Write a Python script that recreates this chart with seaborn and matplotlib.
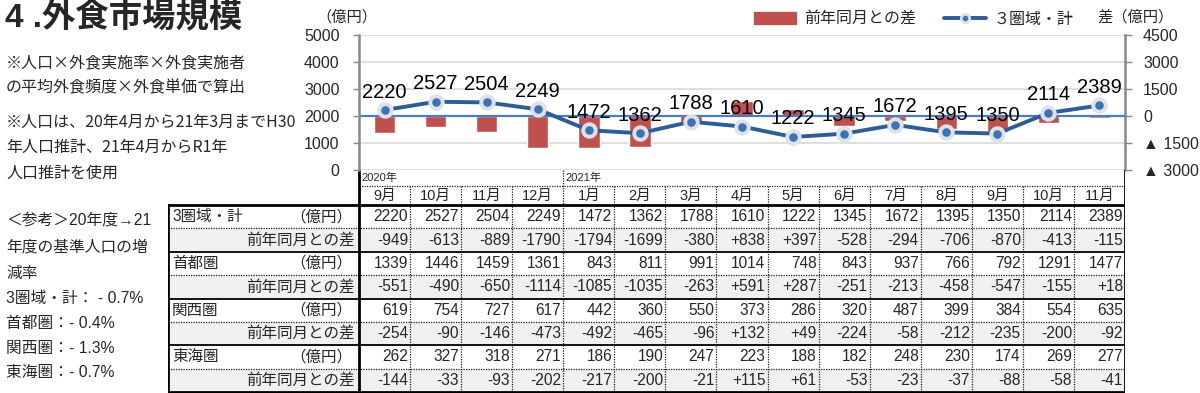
import numpy as np
import pandas as pd
import matplotlib
matplotlib.use('Agg')
import matplotlib.pyplot as plt
from matplotlib.patches import Patch, Rectangle
from matplotlib.lines import Line2D
import seaborn as sns

# --- データ ---
periods = ['2020-09', '2020-10', '2020-11', '2020-12', '2021-01', '2021-02', '2021-03',
           '2021-04', '2021-05', '2021-06', '2021-07', '2021-08', '2021-09', '2021-10', '2021-11']
month_labels = ['9月', '10月', '11月', '12月', '1月', '2月', '3月', '4月',
                '5月', '6月', '7月', '8月', '9月', '10月', '11月']
year_labels = {0: '2020年', 4: '2021年'}

total = [2220, 2527, 2504, 2249, 1472, 1362, 1788, 1610, 1222, 1345, 1672, 1395, 1350, 2114, 2389]
total_diff = [-949, -613, -889, -1790, -1794, -1699, -380, 838, 397, -528, -294, -706, -870, -413, -115]
shutoken = [1339, 1446, 1459, 1361, 843, 811, 991, 1014, 748, 843, 937, 766, 792, 1291, 1477]
shutoken_diff = [-551, -490, -650, -1114, -1085, -1035, -263, 591, 287, -251, -213, -458, -547, -155, 18]
kansai = [619, 754, 727, 617, 442, 360, 550, 373, 286, 320, 487, 399, 384, 554, 635]
kansai_diff = [-254, -90, -146, -473, -492, -465, -96, 132, 49, -224, -58, -212, -235, -200, -92]
tokai = [262, 327, 318, 271, 186, 190, 247, 223, 188, 182, 248, 230, 174, 269, 277]
tokai_diff = [-144, -33, -93, -202, -217, -200, -21, 115, 61, -53, -23, -37, -88, -58, -41]

left_ticks = [0, 1000, 2000, 3000, 4000, 5000]
right_ticks = [-3000, -1500, 0, 1500, 3000, 4500]
right_labels = ['▲ 3000', '▲ 1500', '0', '1500', '3000', '4500']

notes_top = ['※人口×外食実施率×外食実施者', 'の平均外食頻度×外食単価で算出',
             '※人口は、20年4月から21年3月までH30', '年人口推計、21年4月からR1年', '人口推計を使用']
notes_bottom = ['＜参考＞20年度→21', '年度の基準人口の増', '減率',
                '3圏域・計： - 0.7%', '首都圏：- 0.4%', '関西圏：- 1.3%', '東海圏：- 0.7%']

BAR_C = '#c0504d'
LINE_C = '#2d5c97'

sns.set_theme(style='white')
plt.rcParams['font.family'] = ['Liberation Sans', 'Noto Sans CJK JP']
plt.rcParams['axes.unicode_minus'] = False
CJK_FIRST = ['Noto Sans CJK JP', 'Liberation Sans']

W, H = 1200, 393
def fx(px): return px / W
def fy(py): return 1 - py / H

fig = plt.figure(figsize=(12, 3.93), dpi=100)

# --- グラフ部分 ---
ax = fig.add_axes([fx(359), fy(170), fx(1125) - fx(359), fy(35) - fy(170)])
ax2 = ax.twinx()

df = pd.DataFrame({'period': periods, 'total': total, 'diff': total_diff})
df['pos'] = np.arange(len(df))

sns.barplot(data=df, x='period', y='diff', ax=ax2, color=BAR_C, width=0.42, saturation=1)
sns.lineplot(data=df, x='pos', y='total', ax=ax, color=LINE_C, lw=2.8,
             marker='o', ms=9, mfc='#3f72b5', mec='#dde2ea', mew=2.8)

ax.set_zorder(ax2.get_zorder() + 1)
ax.patch.set_visible(False)

ax.set_xlim(-0.5, len(periods) - 0.5)
ax2.set_xlim(-0.5, len(periods) - 0.5)
ax.set_ylim(0, 5000)
ax2.set_ylim(-3000, 4500)

ax.set_yticks(left_ticks)
ax.set_yticklabels([str(t) for t in left_ticks], fontsize=11.5)
ax2.set_yticks(right_ticks)
ax2.set_yticklabels(right_labels, fontsize=11.5)
ax.set_xticks([])
ax2.set_xticks([])
ax.set_xlabel('')
ax.set_ylabel('')
ax2.set_xlabel('')
ax2.set_ylabel('')

ax.tick_params(axis='y', left=True, length=4, width=1, color='#888888', pad=10)
ax2.tick_params(axis='y', right=True, length=5, width=1, color='#888888', pad=8)

ax2.grid(axis='y', color='#d9d9d9', lw=1.2)
ax2.set_axisbelow(True)
ax2.axhline(0, color='#4a7ebb', lw=1.6, zorder=5)

for s in ['top', 'bottom', 'right']:
    ax.spines[s].set_visible(False)
ax.spines['left'].set_color('#888888')
ax.spines['left'].set_linewidth(1.8)
for s in ['top', 'bottom', 'left']:
    ax2.spines[s].set_visible(False)
ax2.spines['right'].set_color('#888888')
ax2.spines['right'].set_linewidth(1.8)

for i, v in enumerate(total):
    ax.annotate(str(v), (i, v), xytext=(0, 13), textcoords='offset points',
                ha='center', va='center', fontsize=14.5, color='black')

# 凡例
handles = [Patch(color=BAR_C),
           Line2D([0], [0], color=LINE_C, lw=2.8, marker='o', ms=6, mfc='#3f72b5', mec='#dde2ea', mew=2)]
fig.legend(handles, ['前年同月との差', '３圏域・計'], loc='center', bbox_to_anchor=(fx(914), fy(19)),
           ncol=2, frameon=False, fontsize=11.5, handlelength=2.6, handleheight=0.8,
           handletextpad=0.5, columnspacing=1.8)

fig.text(fx(347), fy(17), '（億円）', ha='center', va='center', fontsize=11)
fig.text(fx(1136), fy(17), '差（億円）', ha='center', va='center', fontsize=11)

# --- タイトル・注記 ---
fig.text(fx(5), fy(18), '4 .外食市場規模', ha='left', va='center', fontsize=24, fontweight='bold')
for txt, yy in zip(notes_top, [63, 88, 122, 147, 173]):
    fig.text(fx(6), fy(yy), txt, ha='left', va='center', fontsize=11.5, family=CJK_FIRST)
for txt, yy in zip(notes_bottom, [221, 247, 273, 298, 323, 348, 372]):
    fig.text(fx(6), fy(yy), txt, ha='left', va='center', fontsize=11.3)

# --- 表 ---
cw = (1125 - 359) / len(periods)
x_lab = -0.5 - (359 - 168) / cw
x_end = len(periods) - 0.5
axt = fig.add_axes([fx(168), fy(393), fx(1125) - fx(168), fy(170) - fy(393)])
axt.set_xlim(x_lab, x_end)
axt.set_ylim(393, 170)
axt.axis('off')

data_top = 205
rh = (392 - data_top) / 8
rows = [('3圏域・計', total, False), ('', total_diff, True),
        ('首都圏', shutoken, False), ('', shutoken_diff, True),
        ('関西圏', kansai, False), ('', kansai_diff, True),
        ('東海圏', tokai, False), ('', tokai_diff, True)]

for r, (name, vals, is_diff) in enumerate(rows):
    y0 = data_top + r * rh
    yc = y0 + rh / 2
    if is_diff:
        axt.add_patch(Rectangle((x_lab, y0), x_end - x_lab, rh, color='#f0f0f0', zorder=0))
        axt.text(-0.5 - 0.08, yc, '前年同月との差', ha='right', va='center', fontsize=11.2)
        strs = [f'+{v}' if v > 0 else str(v) for v in vals]
    else:
        axt.text(x_lab + 0.08, yc, name, ha='left', va='center', fontsize=11.2)
        axt.text(-1.85, yc, '（億円）', ha='left', va='center', fontsize=11.2)
        strs = [str(v) for v in vals]
    for i, s in enumerate(strs):
        axt.text(i + 0.46, yc, s, ha='right', va='center', fontsize=11.2)
    if r > 0:
        if is_diff:
            axt.plot([x_lab, x_end], [y0, y0], ls=(0, (1, 1)), color='#222222', lw=0.9)
        else:
            axt.plot([x_lab, x_end], [y0, y0], color='black', lw=1.3)

for i, m in enumerate(month_labels):
    axt.text(i, 196, m, ha='center', va='center', fontsize=10.5)
for i, yl in year_labels.items():
    axt.text(i - 0.45, 178, yl, ha='left', va='center', fontsize=8)

axt.plot([-0.5, x_end], [186, 186], ls=(0, (1, 1)), color='#222222', lw=0.9)
for i in range(len(periods) - 1):
    top = 170 if (i + 1) in year_labels else 186
    axt.plot([i + 0.5, i + 0.5], [top, 392], ls=(0, (1, 1)), color='#222222', lw=0.9)

axt.plot([x_lab, x_end], [data_top, data_top], color='black', lw=2)
axt.plot([x_lab, x_end], [392, 392], color='black', lw=2)
axt.plot([x_lab, x_lab], [data_top, 392], color='black', lw=2)
axt.plot([-0.5, -0.5], [170, 392], color='black', lw=2)
axt.plot([x_end, x_end], [170, 392], color='black', lw=2)

fig.savefig('out.png', dpi=100)
